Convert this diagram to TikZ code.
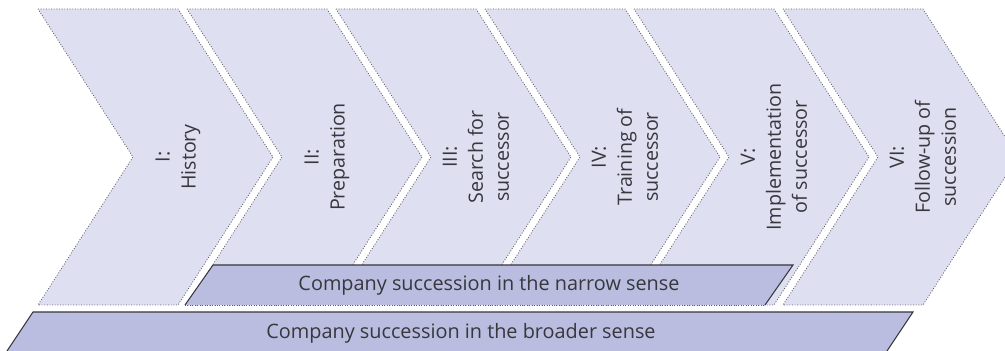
\documentclass[tikz,border=0pt]{standalone}
\usepackage{fontspec}
\setmainfont{Open Sans}
\usetikzlibrary{positioning}
\usepackage{xcolor}
\definecolor{chevfill}{RGB}{222,223,241}
\definecolor{barfill}{RGB}{186,189,224}
\definecolor{inkgray}{RGB}{55,55,60}

\begin{document}
\begin{tikzpicture}[x=0.02cm, y=-0.02cm,
  stage/.style={draw=inkgray!80, densely dotted, line width=0.5pt, fill=chevfill},
  steptext/.style={rotate=90, align=center, text=inkgray, font=\fontsize{11.2}{14.8}\selectfont},
  sense/.style={fill=barfill, draw=none},
  senseline/.style={draw=inkgray, line width=0.6pt},
  sensetext/.style={text=inkgray, font=\fontsize{11.3}{13}\selectfont}
]
  \useasboundingbox (0,0) rectangle (1005,351);
  \clip (0,0) rectangle (1005,351);

  % six phases, one chevron every 149px
  \foreach \x in {38,187,336,485,634,783}
    \draw[stage] (\x,9) -- ++(140,0) -- ++(95,148) -- ++(-95,148) -- ++(-140,0) -- ++(95,-148) -- cycle;

  \node[steptext] (p1) at (178,157) {I:\\History};
  \node[steptext] (p2) at (327,157) {II:\\Preparation};
  \node[steptext] (p3) at (476,157) {III:\\Search for\\successor};
  \node[steptext] (p4) at (625,157) {IV:\\Training of\\successor};
  \node[steptext] (p5) at (774,157) {V:\\Implementation\\of successor};
  \node[steptext] (p6) at (923,157) {VI:\\Follow-up of\\succession};

  % narrow sense: phases II to V
  \coordinate (n1) at (185,305);
  \coordinate (n2) at (213,265);
  \coordinate (n3) at (793,265);
  \coordinate (n4) at (765,305);
  \fill[sense] (n1) -- (n2) -- (n3) -- (n4) -- cycle;
  \draw[senseline] (n1) -- (n2) -- (n3) -- (n4);
  \draw[inkgray!80, densely dotted] (n1) -- (n4);
  \node[sensetext] (narrow) at (489,285) {Company succession in the narrow sense};

  % broader sense: all phases
  \coordinate (b1) at (7,351);
  \coordinate (b2) at (33,312);
  \coordinate (b3) at (913,312);
  \coordinate (b4) at (887,351);
  \fill[sense] (b1) -- (b2) -- (b3) -- (b4) -- cycle;
  \draw[senseline] (b1) -- (b2) -- (b3) -- (b4);
  \node[sensetext] (broad) at (461,333) {Company succession in the broader sense};
\end{tikzpicture}
\end{document}
